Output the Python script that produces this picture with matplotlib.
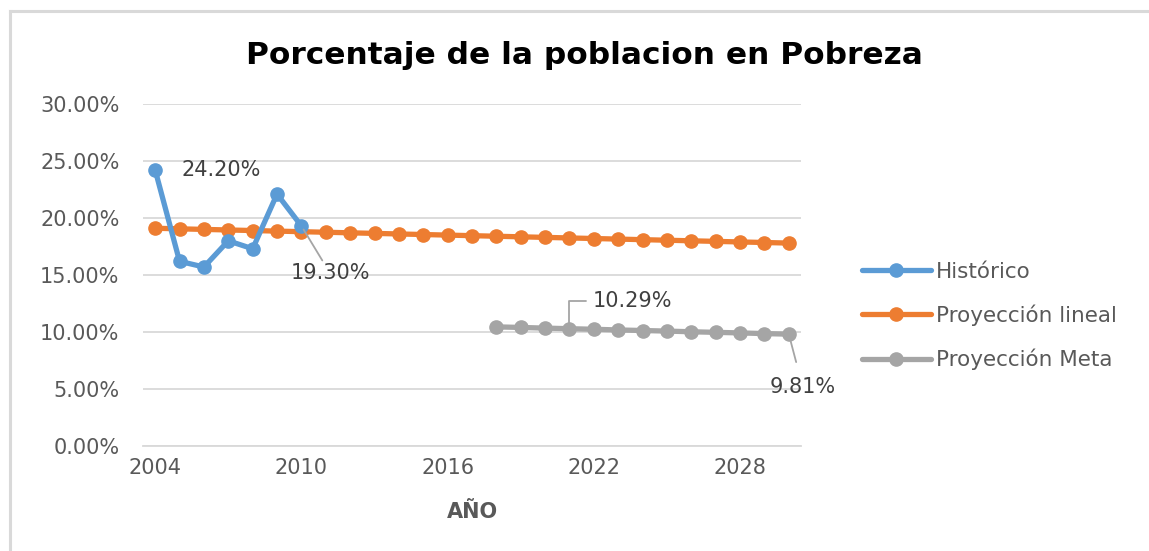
import matplotlib.pyplot as plt
from matplotlib.lines import Line2D
from matplotlib.ticker import FuncFormatter

years = list(range(2004, 2031))
hist_years = list(range(2004, 2011))
hist_vals = [24.20, 16.2, 15.7, 18.0, 17.3, 22.1, 19.30]
lineal_vals = [19.10, 19.05, 19.00, 18.95, 18.90, 18.85, 18.80, 18.75, 18.70,
               18.65, 18.60, 18.55, 18.50, 18.45, 18.40, 18.35, 18.30, 18.25,
               18.20, 18.15, 18.10, 18.05, 18.00, 17.95, 17.90, 17.85, 17.80]
meta_years = list(range(2018, 2031))
meta_vals = [10.45, 10.40, 10.34, 10.29, 10.24, 10.18, 10.13, 10.08, 10.02,
             9.97, 9.92, 9.86, 9.81]
tick_years = [2004, 2010, 2016, 2022, 2028]
labels = ['Histórico', 'Proyección lineal', 'Proyección Meta']
colors = ['#5B9BD5', '#ED7D31', '#A5A5A5']

plt.rcParams['font.family'] = ['DejaVu Sans']
W, H = 1149, 551
fig = plt.figure(figsize=(W / 100, H / 100), dpi=100)
ax = fig.add_axes([143 / W, 1 - 446 / H, (801 - 143) / W, (446 - 104) / H])

# category axis: position = index of the year
def pos(yrs):
    return [y - years[0] for y in yrs]

style = dict(lw=3.8, marker='o', ms=9.5, solid_capstyle='round')
ax.plot(pos(years), lineal_vals, color=colors[1], zorder=2, **style)
ax.plot(pos(hist_years), hist_vals, color=colors[0], zorder=3, **style)
ax.plot(pos(meta_years), meta_vals, color=colors[2], zorder=2, **style)

ax.set_xlim(-0.5, len(years) - 0.5)
ax.set_ylim(0, 30)
ax.set_yticks(range(0, 31, 5))
ax.yaxis.set_major_formatter(FuncFormatter(lambda v, p: f'{v:.2f}%'))
ax.set_xticks(pos(tick_years))
ax.set_xticklabels([str(y) for y in tick_years])
ax.grid(axis='y', color='#D9D9D9', lw=1.3)
ax.set_axisbelow(True)
for s in ['top', 'right', 'left']:
    ax.spines[s].set_visible(False)
ax.spines['bottom'].set_color('#D9D9D9')
ax.spines['bottom'].set_linewidth(1.3)
ax.tick_params(length=0, labelsize=15, colors='#595959')
ax.tick_params(axis='y', pad=17)
ax.tick_params(axis='x', pad=9)
ax.set_xlabel('AÑO', fontsize=15, fontweight='bold', color='#595959', labelpad=17)

fig.text(0.509, 1 - 55 / H, 'Porcentaje de la poblacion en Pobreza', ha='center',
         va='center', fontsize=22.5, fontweight='bold', color='black')

# data labels
lbl = dict(fontsize=15, color='#404040')
ax.annotate(f'{hist_vals[0]:.2f}%', (pos([2004])[0], hist_vals[0]),
            xytext=(19, 0), textcoords='offset points', ha='left', va='center', **lbl)
ax.annotate(f'{hist_vals[-1]:.2f}%', (pos([2010])[0], hist_vals[-1]),
            xytext=(-8, -34), textcoords='offset points', ha='left', va='center',
            arrowprops=dict(arrowstyle='-', color='#A5A5A5', lw=1.3,
                            shrinkA=0, shrinkB=3), **lbl)
ax.annotate(f'{meta_vals[3]:.2f}%', (pos([2021])[0], meta_vals[3]),
            xytext=(17, 20), textcoords='offset points', ha='left', va='center',
            arrowprops=dict(arrowstyle='-', color='#A5A5A5', lw=1.3,
                            connectionstyle='angle,angleA=0,angleB=90,rad=0',
                            shrinkA=3, shrinkB=0), **lbl)
ax.annotate(f'{meta_vals[-1]:.2f}%', (pos([2030])[0], meta_vals[-1]),
            xytext=(10, -38), textcoords='offset points', ha='center', va='center',
            arrowprops=dict(arrowstyle='-', color='#A5A5A5', lw=1.3,
                            shrinkA=9, shrinkB=0), **lbl)

handles = [Line2D([], [], color=c, **style) for c in colors]
fig.legend(handles, labels, loc='center left',
           bbox_to_anchor=(851 / W, 1 - 316 / H), frameon=False, fontsize=15.5,
           labelcolor='#595959', handlelength=3.2, handletextpad=0.25,
           labelspacing=1.05, borderpad=0)

# chart frame
fig.add_artist(Line2D([10 / W, 1], [1 - 11 / H] * 2, color='#D9D9D9', lw=2.2,
                      transform=fig.transFigure))
fig.add_artist(Line2D([10 / W] * 2, [0, 1 - 11 / H], color='#D9D9D9', lw=2.2,
                      transform=fig.transFigure))

fig.savefig('out.png', dpi=100)
